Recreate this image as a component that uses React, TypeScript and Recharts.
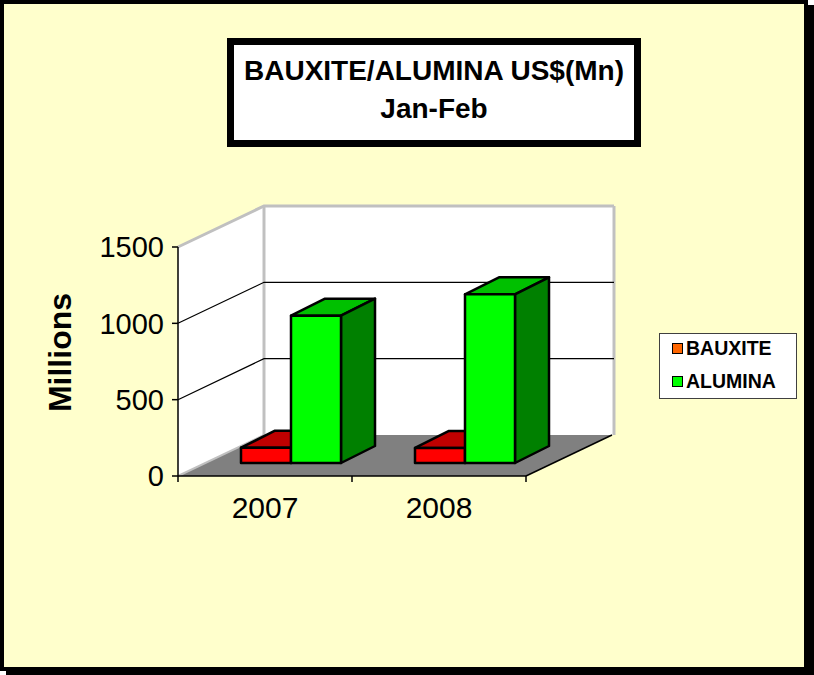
import React from 'react';
import { BarChart, Bar, XAxis, YAxis, Legend, ReferenceArea } from 'recharts';

// values (US$ millions, Jan-Feb)
const years = ['2007', '2008'];
const bauxite = [100, 99];
const alumina = [965, 1105];
const yTicks = [0, 500, 1000, 1500];
const seriesNames = ['BAUXITE', 'ALUMINA'];
const legendColors = ['#FF6600', '#00FF00'];

const data = years.map((year, i) => ({ year, BAUXITE: bauxite[i], ALUMINA: alumina[i] }));

// wall bands between grid values
const bands = yTicks.slice(0, -1).map((v, i) => ({ from: v, to: yTicks[i + 1] }));

const FONT = '"Liberation Sans", Arial, Helvetica, sans-serif';

// 3d depth of the floor / walls
const DEPTH_X = 86;
const DEPTH_Y = -41;
// bars sit part way into the floor
const BAR_SHIFT_X = 26;
const BAR_SHIFT_Y = -13;
const BAR_DX = 34;
const BAR_DY = -17;

const WALL_BORDER = '#C0C0C0';

const WallBand = (props: any) => {
  const { x, y, width, height, isFirst, isLast } = props;
  const bottom = y + height;
  const bx = x + DEPTH_X;
  return (
    <g>
      {/* left side wall */}
      <polygon
        points={`${x},${bottom} ${x},${y} ${bx},${y + DEPTH_Y} ${bx},${bottom + DEPTH_Y}`}
        fill="#FFFFFF"
      />
      {/* back wall */}
      <rect x={bx} y={y + DEPTH_Y} width={width + 2} height={height} fill="#FFFFFF" />
      <line x1={bx} y1={y + DEPTH_Y} x2={bx} y2={bottom + DEPTH_Y} stroke={WALL_BORDER} strokeWidth={3} />
      <line x1={bx + width + 2} y1={y + DEPTH_Y} x2={bx + width + 2} y2={bottom + DEPTH_Y} stroke={WALL_BORDER} strokeWidth={3} />
      {!isFirst && (
        <polyline
          points={`${x},${bottom} ${bx},${bottom + DEPTH_Y} ${bx + width + 2},${bottom + DEPTH_Y}`}
          fill="none"
          stroke="#000"
          strokeWidth={1.2}
        />
      )}
      {isLast && (
        <polyline
          points={`${x},${y} ${bx},${y + DEPTH_Y} ${bx + width + 2},${y + DEPTH_Y}`}
          fill="none"
          stroke={WALL_BORDER}
          strokeWidth={3}
        />
      )}
      {isFirst && (
        <g>
          <polygon
            points={`${x},${bottom} ${x + width},${bottom} ${x + width + DEPTH_X},${bottom + DEPTH_Y} ${bx},${bottom + DEPTH_Y}`}
            fill="#808080"
          />
          <line x1={x} y1={bottom} x2={bx} y2={bottom + DEPTH_Y} stroke={WALL_BORDER} strokeWidth={2} />
          <line x1={x + width} y1={bottom} x2={x + width + DEPTH_X} y2={bottom + DEPTH_Y} stroke="#000" strokeWidth={1.5} />
          {/* category boundary ticks */}
          {[0, 0.5, 1].map((f) => (
            <line key={f} x1={x + width * f} y1={bottom} x2={x + width * f} y2={bottom + 6} stroke="#000" strokeWidth={1.5} />
          ))}
        </g>
      )}
    </g>
  );
};

const Bar3D = (props: any) => {
  const { x, y, width, height, front, top, side } = props;
  if (height == null || width == null) return null;
  const fx = x + BAR_SHIFT_X;
  const fy = y + BAR_SHIFT_Y;
  const stroke = '#000';
  const sw = 2.5;
  return (
    <g strokeLinejoin="round">
      <polygon
        points={`${fx},${fy} ${fx + BAR_DX},${fy + BAR_DY} ${fx + width + BAR_DX},${fy + BAR_DY} ${fx + width},${fy}`}
        fill={top}
        stroke={stroke}
        strokeWidth={sw}
      />
      <polygon
        points={`${fx + width},${fy} ${fx + width + BAR_DX},${fy + BAR_DY} ${fx + width + BAR_DX},${fy + height + BAR_DY} ${fx + width},${fy + height}`}
        fill={side}
        stroke={stroke}
        strokeWidth={sw}
      />
      <rect x={fx} y={fy} width={width} height={height} fill={front} stroke={stroke} strokeWidth={sw} />
    </g>
  );
};

const MillionsLabel = (props: any) => {
  const { viewBox } = props;
  if (!viewBox) return null;
  const cx = viewBox.x - 37;
  const cy = viewBox.y + viewBox.height / 2 - 9;
  return (
    <text
      x={cx}
      y={cy}
      transform={`rotate(-90 ${cx} ${cy})`}
      textAnchor="middle"
      fontFamily={FONT}
      fontWeight="bold"
      fontSize={32}
      fill="#000"
    >
      Millions
    </text>
  );
};

const LegendBox = () => (
  <div
    style={{
      width: 138,
      height: 66,
      boxSizing: 'border-box',
      border: '1px solid #404040',
      background: '#FFFFFF',
      padding: '2px 0 0 12px',
      fontFamily: FONT,
      fontWeight: 'bold',
      fontSize: 19.5,
      color: '#000',
    }}
  >
    {seriesNames.map((name, i) => (
      <div
        key={name}
        style={{ display: 'flex', alignItems: 'center', height: 24, lineHeight: '24px', marginBottom: 9 }}
      >
        <span
          style={{
            display: 'inline-block',
            width: 9,
            height: 9,
            border: '1px solid #000',
            background: legendColors[i],
            marginRight: 3,
          }}
        />
        <span>{name}</span>
      </div>
    ))}
  </div>
);

export default function App() {
  return (
    <div style={{ position: 'absolute', left: 0, top: 0, width: 814, height: 675 }}>
      {/* outer frame with drop shadow */}
      <div
        style={{
          position: 'absolute',
          left: 0,
          top: 0,
          width: 808,
          height: 671,
          boxSizing: 'border-box',
          border: '4px solid #000',
          background: '#FFFFCC',
          boxShadow: '6px 5px 0 0 #000',
        }}
      />
      {/* title */}
      <div
        style={{
          position: 'absolute',
          left: 227,
          top: 38,
          width: 414,
          height: 109,
          boxSizing: 'border-box',
          border: '7px solid #000',
          background: '#FFFFFF',
          paddingTop: 7,
          textAlign: 'center',
          fontFamily: FONT,
          fontWeight: 'bold',
          fontSize: 28,
          lineHeight: '38px',
          color: '#000',
        }}
      >
        <div>BAUXITE/ALUMINA US$(Mn)</div>
        <div>Jan-Feb</div>
      </div>
      <div style={{ position: 'absolute', left: 0, top: 0 }}>
        <BarChart
          width={814}
          height={675}
          data={data}
          margin={{ top: 247, right: 288, bottom: 159, left: 108 }}
          barSize={50}
          barGap={0}
        >
          {bands.map((b, i) => (
            <ReferenceArea
              key={b.from}
              y1={b.from}
              y2={b.to}
              ifOverflow="visible"
              shape={(p: any) => <WallBand {...p} isFirst={i === 0} isLast={i === bands.length - 1} />}
            />
          ))}
          <XAxis
            dataKey="year"
            height={40}
            axisLine={{ stroke: '#000', strokeWidth: 1.5 }}
            tickLine={false}
            tickSize={6}
            tickMargin={15}
            tick={{ fill: '#000', fontSize: 30, fontFamily: FONT }}
          />
          <YAxis
            width={70}
            domain={[0, 1500]}
            ticks={yTicks}
            interval={0}
            axisLine={{ stroke: '#000', strokeWidth: 1.5 }}
            tickLine={{ stroke: '#000', strokeWidth: 1.5 }}
            tickSize={6}
            tickMargin={8}
            tick={{ fill: '#000', fontSize: 29, fontFamily: FONT }}
            label={<MillionsLabel />}
          />
          <Bar
            dataKey="BAUXITE"
            fill="#FF0000"
            isAnimationActive={false}
            shape={(p: any) => <Bar3D {...p} front="#FF0000" top="#C00000" side="#800000" />}
          />
          <Bar
            dataKey="ALUMINA"
            fill="#00FF00"
            isAnimationActive={false}
            shape={(p: any) => <Bar3D {...p} front="#00FF00" top="#00C000" side="#008000" />}
          />
          <Legend
            layout="horizontal"
            align="center"
            verticalAlign="middle"
            wrapperStyle={{ left: 659, top: 333, width: 138 }}
            content={() => <LegendBox />}
          />
        </BarChart>
      </div>
    </div>
  );
}
